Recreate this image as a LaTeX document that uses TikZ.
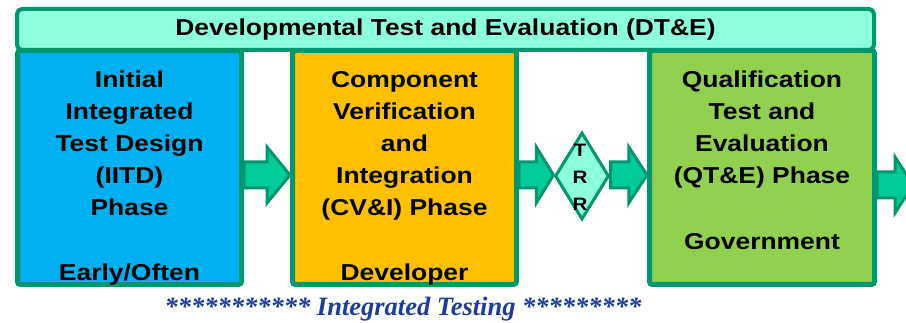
\documentclass[tikz,border=0pt]{standalone}
\usepackage{fontspec}
\setmainfont{Liberation Sans}[FakeStretch=1.15]
\newfontfamily\starfont{Liberation Serif}
\usetikzlibrary{calc,shapes.geometric}
\definecolor{rimgreen}{RGB}{0,150,110}
\definecolor{banneraqua}{RGB}{140,255,220}
\definecolor{arrowgreen}{RGB}{0,204,153}
\definecolor{phaseblue}{RGB}{0,176,240}
\definecolor{phaseorange}{RGB}{255,192,0}
\definecolor{phasegreen}{RGB}{146,208,80}
\definecolor{starblue}{RGB}{30,60,160}
\tikzset{
    phase/.style={draw=rimgreen,line width=5pt,rounded corners=3pt,
        minimum width=224pt,minimum height=234pt,inner sep=0pt},
    phasetext/.style={font=\bfseries\fontsize{23}{32}\selectfont,
        align=center,anchor=base,inner sep=0pt},
    blockarrow/.style={draw=rimgreen,fill=arrowgreen,line width=3pt}
}
\newcommand\blockarrow[2]{
    \draw[blockarrow] ($(#1)+(0,-13)$) -- ($(#1)!0.5!(#2)+(0,-13)$)
        -- ($(#1)!0.5!(#2)+(0,-28)$) -- (#2) -- ($(#1)!0.5!(#2)+(0,28)$)
        -- ($(#1)!0.5!(#2)+(0,13)$) -- ($(#1)+(0,13)$) -- cycle;
}

\begin{document}
\begin{tikzpicture}[x=1pt,y=-1pt]
        \useasboundingbox (0,0) rectangle (906,323);

        \node[phase,fill=phaseblue] (iitd) at (129.5,167.5) {};
        \node[phase,fill=phaseorange] (cvi) at (404.5,167.5) {};
        \node[phase,fill=phasegreen,minimum width=225pt] (qte) at (762,167.5) {};

        \node[draw=rimgreen,fill=banneraqua,line width=4pt,rounded corners=5pt,
            minimum width=857pt,minimum height=41pt,inner sep=0pt,
            font=\bfseries\fontsize{23}{28}\selectfont] (dte) at (445.5,29.5)
            {Developmental Test and Evaluation (DT\&E)};

        \node[diamond,draw=rimgreen,fill=banneraqua,line width=3pt,
            minimum width=54pt,minimum height=87pt,inner sep=0pt] (trr) at (582,176) {};
        \node[font=\bfseries\fontsize{18}{27}\selectfont,align=center,inner sep=0pt]
            (trrtext) at ($(trr)+(-2,1)$) {T\\R\\R};

        \node[phasetext] (iitdtitle) at ($(iitd.north)+(0,168)$)
            {Initial\\Integrated\\Test Design\\(IITD)\\Phase};
        \node[phasetext] (iitdnote) at ($(iitd.south)+(0,-6)$) {Early/Often};
        \node[phasetext] (cvititle) at ($(cvi.north)+(0,168)$)
            {Component\\Verification\\and\\Integration\\(CV\&I) Phase};
        \node[phasetext] (cvinote) at ($(cvi.south)+(0,-6)$) {Developer};
        \node[phasetext] (qtetitle) at ($(qte.north)+(0,136)$)
            {Qualification\\Test and\\Evaluation\\(QT\&E) Phase};
        \node[phasetext] (qtenote) at ($(qte.south)+(0,-37)$) {Government};

        \coordinate (row) at (0,175);
        \coordinate (exit) at (913,185);
        \blockarrow{iitd.east |- row}{cvi.west |- row}
        \blockarrow{cvi.east |- row}{trr.west |- row}
        \blockarrow{trr.east |- row}{qte.west |- row}
        \blockarrow{qte.east |- exit}{exit}

        \node[font=\starfont\bfseries\itshape\fontsize{26.5}{30}\selectfont,
            text=starblue,anchor=base,inner sep=0pt] (motto) at (403,316)
            {*********** Integrated Testing *********};
    \end{tikzpicture}
\end{document}
